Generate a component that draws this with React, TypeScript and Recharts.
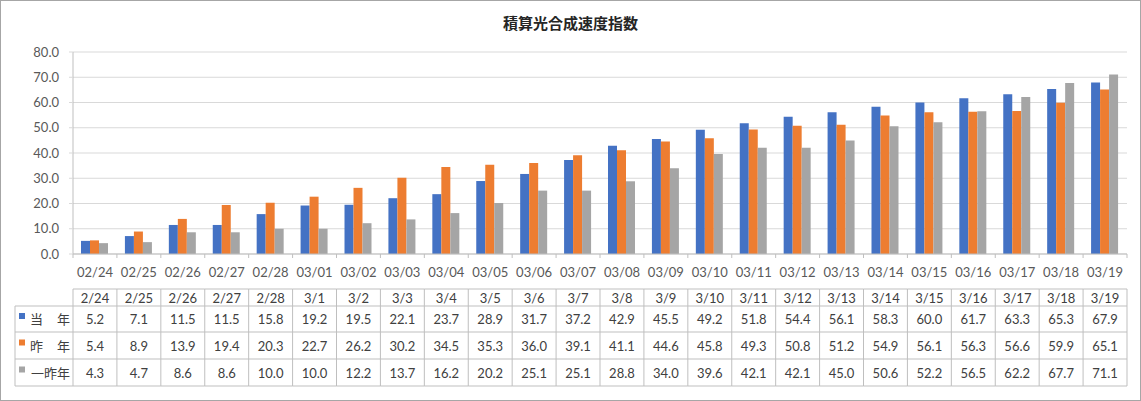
import { BarChart, Bar, XAxis, YAxis, CartesianGrid } from 'recharts'

const axisDates = [
  '02/24', '02/25', '02/26', '02/27', '02/28', '03/01', '03/02', '03/03', '03/04', '03/05', '03/06', '03/07',
  '03/08', '03/09', '03/10', '03/11', '03/12', '03/13', '03/14', '03/15', '03/16', '03/17', '03/18', '03/19',
]
const tableDates = [
  '2/24', '2/25', '2/26', '2/27', '2/28', '3/1', '3/2', '3/3', '3/4', '3/5', '3/6', '3/7',
  '3/8', '3/9', '3/10', '3/11', '3/12', '3/13', '3/14', '3/15', '3/16', '3/17', '3/18', '3/19',
]
const thisYear = [5.2, 7.1, 11.5, 11.5, 15.8, 19.2, 19.5, 22.1, 23.7, 28.9, 31.7, 37.2, 42.9, 45.5, 49.2, 51.8, 54.4, 56.1, 58.3, 60.0, 61.7, 63.3, 65.3, 67.9]
const lastYear = [5.4, 8.9, 13.9, 19.4, 20.3, 22.7, 26.2, 30.2, 34.5, 35.3, 36.0, 39.1, 41.1, 44.6, 45.8, 49.3, 50.8, 51.2, 54.9, 56.1, 56.3, 56.6, 59.9, 65.1]
const twoYearsAgo = [4.3, 4.7, 8.6, 8.6, 10.0, 10.0, 12.2, 13.7, 16.2, 20.2, 25.1, 25.1, 28.8, 34.0, 39.6, 42.1, 42.1, 45.0, 50.6, 52.2, 56.5, 62.2, 67.7, 71.1]
const yTicks = [0, 10, 20, 30, 40, 50, 60, 70, 80]

const series = [
  { key: 'cur', label: ['当', '年'], color: '#4472C4', values: thisYear },
  { key: 'prev', label: ['昨', '年'], color: '#ED7D31', values: lastYear },
  { key: 'prev2', label: ['一昨年'], color: '#A5A5A5', values: twoYearsAgo },
]

const data = axisDates.map((d, i) => ({
  name: d,
  cur: thisYear[i],
  prev: lastYear[i],
  prev2: twoYearsAgo[i],
}))

const W = 1141
const H = 401
const PLOT_LEFT = 73
const PLOT_RIGHT = 1127
const PLOT_TOP = 52
const PLOT_BOTTOM = 254
const BAND = (PLOT_RIGHT - PLOT_LEFT) / axisDates.length
const ROWS = [289, 306, 332, 359, 386]
const TABLE_LEFT = 15
const FONT = "Lato, 'Noto Sans CJK JP', sans-serif"
const TEXT = '#404040'
const LINE = '#BFBFBF'

const TableTick = (props: any) => {
  const { x, payload } = props
  const i = payload.index
  const left = x - BAND / 2
  const right = x + BAND / 2
  const last = i === axisDates.length - 1
  return (
    <g fontFamily={FONT} fontSize={13} fill={TEXT}>
      <line x1={left} x2={left} y1={PLOT_BOTTOM} y2={PLOT_BOTTOM + 4} stroke={LINE} />
      {last && <line x1={right} x2={right} y1={PLOT_BOTTOM} y2={PLOT_BOTTOM + 4} stroke={LINE} />}
      <text x={x} y={272} textAnchor="middle" dominantBaseline="central" fill="#595959">
        {payload.value}
      </text>

      {/* data table column */}
      <line x1={left} x2={left} y1={ROWS[0]} y2={ROWS[4]} stroke={LINE} />
      {last && <line x1={right} x2={right} y1={ROWS[0]} y2={ROWS[4]} stroke={LINE} />}
      {ROWS.map((ry) => (
        <line key={ry} x1={left} x2={right} y1={ry} y2={ry} stroke={LINE} />
      ))}
      <text x={x} y={(ROWS[0] + ROWS[1]) / 2} textAnchor="middle" dominantBaseline="central">
        {tableDates[i]}
      </text>
      {series.map((s, r) => (
        <text key={s.key} x={x} y={(ROWS[r + 1] + ROWS[r + 2]) / 2} textAnchor="middle" dominantBaseline="central">
          {s.values[i].toFixed(1)}
        </text>
      ))}

      {/* legend column, drawn once */}
      {i === 0 && (
        <g>
          <line x1={TABLE_LEFT} x2={TABLE_LEFT} y1={ROWS[1]} y2={ROWS[4]} stroke={LINE} />
          {ROWS.slice(1).map((ry) => (
            <line key={ry} x1={TABLE_LEFT} x2={left} y1={ry} y2={ry} stroke={LINE} />
          ))}
          {series.map((s, r) => {
            const cy = (ROWS[r + 1] + ROWS[r + 2]) / 2
            return (
              <g key={s.key}>
                <rect x={19} y={cy - 6} width={6} height={6} fill={s.color} />
                {s.label.length === 2 ? (
                  <>
                    <text x={30} y={cy} dominantBaseline="central">{s.label[0]}</text>
                    <text x={70} y={cy} textAnchor="end" dominantBaseline="central">{s.label[1]}</text>
                  </>
                ) : (
                  <text x={70} y={cy} textAnchor="end" dominantBaseline="central">{s.label[0]}</text>
                )}
              </g>
            )
          })}
        </g>
      )}
    </g>
  )
}

export default function App() {
  return (
    <div style={{ position: 'relative', width: W, height: H, background: '#fff' }}>
      <style>{'body{margin:0}'}</style>
      <div
        style={{
          position: 'absolute',
          inset: 0,
          border: '1px solid #A6A6A6',
          boxSizing: 'border-box',
          pointerEvents: 'none',
        }}
      />
      <div
        style={{
          position: 'absolute',
          top: 12,
          left: 0,
          width: W,
          textAlign: 'center',
          fontFamily: FONT,
          fontSize: 15,
          fontWeight: 'bold',
          color: '#262626',
        }}
      >
        積算光合成速度指数
      </div>
      <BarChart
        width={W}
        height={H}
        data={data}
        margin={{ top: PLOT_TOP, right: W - PLOT_RIGHT, left: 0, bottom: 0 }}
        barCategoryGap={8}
        barGap={0}
      >
        <CartesianGrid vertical={false} stroke="#D9D9D9" />
        <XAxis
          dataKey="name"
          interval={0}
          height={H - PLOT_BOTTOM}
          tickLine={false}
          axisLine={{ stroke: LINE }}
          tick={<TableTick />}
        />
        <YAxis
          width={PLOT_LEFT}
          domain={[0, 80]}
          ticks={yTicks}
          interval={0}
          tickFormatter={(v: number) => v.toFixed(1)}
          tickSize={4}
          tickMargin={10}
          tickLine={{ stroke: '#D9D9D9' }}
          axisLine={{ stroke: LINE }}
          tick={{ fill: '#595959', fontSize: 13, fontFamily: FONT }}
        />
        {series.map((s) => (
          <Bar key={s.key} dataKey={s.key} fill={s.color} isAnimationActive={false} />
        ))}
      </BarChart>
    </div>
  )
}
